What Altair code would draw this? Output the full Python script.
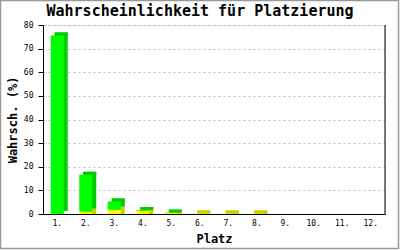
import altair as alt
import pandas as pd

places = ["1.", "2.", "3.", "4.", "5.", "6.", "7.", "8.", "9.", "10.", "11.", "12."]
yellow_vals = [0.0, 1.0, 1.8, 1.4, 0.4, 0.2, 0.2, 0.2, 0.0, 0.0, 0.0, 0.0]
green_vals = [75.6, 15.6, 3.5, 0.3, 0.2, 0.0, 0.0, 0.0, 0.0, 0.0, 0.0, 0.0]

rows = []
for p, yv, gv in zip(places, yellow_vals, green_vals):
    rows.append({
        "Platz": p,
        "yellow": yv,
        "green": gv,
        "total": yv + gv,
        "zero": 0.0,
        "topcol": "g" if gv > 0 else "y",
    })
df = pd.DataFrame(rows)

MONO = "DejaVu Sans Mono"
W, H = 342, 189

xenc = alt.X("Platz:N", sort=places,
             scale=alt.Scale(domain=places, paddingInner=0, paddingOuter=0),
             axis=alt.Axis(title="Platz", labelAngle=0, ticks=False, grid=False,
                           domainColor="black", labelFont=MONO, labelFontSize=8,
                           labelColor="black", labelPadding=5,
                           titleFont=MONO, titleFontSize=12, titleFontWeight="bold",
                           titleColor="black", titlePadding=6))
yscale = alt.Scale(domain=[0, 80], nice=False)
yaxis = alt.Axis(title="Wahrsch. (%)", values=list(range(0, 81, 10)), tickSize=5,
                 tickColor="black", domainColor="black", labelFont=MONO,
                 labelFontSize=8, labelColor="black", labelPadding=5,
                 gridColor="#bbbbbb", gridDash=[2, 3],
                 titleFont=MONO, titleFontSize=12, titleFontWeight="bold",
                 titleColor="black", titlePadding=4)

base = alt.Chart(df).encode(x=xenc)

back_yellow = base.transform_filter("datum.yellow > 0").mark_bar(
    size=13, color="#cccc00", xOffset=4, yOffset=-3, y2Offset=0
).encode(y=alt.Y("yellow:Q", scale=yscale, axis=yaxis), y2="zero:Q")

back_green = base.transform_filter("datum.green > 0").mark_bar(
    size=13, color="#00cc00", xOffset=4, yOffset=-3, y2Offset=-3
).encode(y=alt.Y("total:Q", scale=yscale, axis=yaxis), y2="yellow:Q")

top_face = base.transform_filter("datum.total > 0").mark_bar(
    size=13, xOffset=4, yOffset=-3, y2Offset=0
).encode(
    y=alt.Y("total:Q", scale=yscale, axis=yaxis), y2="total:Q",
    color=alt.Color("topcol:N", scale=alt.Scale(domain=["g", "y"], range=["#00cc00", "#cccc00"]), legend=None),
)

front_yellow = base.transform_filter("datum.yellow > 0").mark_bar(
    size=13, color="#ffff00"
).encode(y=alt.Y("yellow:Q", scale=yscale, axis=yaxis), y2="zero:Q")

front_green = base.transform_filter("datum.green > 0").mark_bar(
    size=13, color="#00ff00"
).encode(y=alt.Y("total:Q", scale=yscale, axis=yaxis), y2="yellow:Q")

right_rule = alt.Chart(alt.Data(values=[{}])).mark_rule(color="black").encode(
    x=alt.value(W), y=alt.value(0), y2=alt.value(H)
)

border = alt.Chart(alt.Data(values=[{}])).mark_rect(
    filled=False, stroke="#999999", strokeWidth=1.5
).encode(
    x=alt.value(-42.5), x2=alt.value(400 - 43 - 1.5),
    y=alt.value(-24.5), y2=alt.value(250 - 25 - 1.5)
)

chart = alt.layer(
    back_yellow, back_green, top_face, front_yellow, front_green, right_rule, border
).properties(
    width=W, height=H,
    title=alt.TitleParams("Wahrscheinlichkeit für Platzierung", font=MONO, fontSize=15,
                          fontWeight="bold", color="black", anchor="middle", dx=-14,
                          baseline="alphabetic", offset=0, dy=31),
    autosize=alt.AutoSizeParams(type="none"),
    padding={"left": 43, "top": 25, "right": 15, "bottom": 36},
).configure_view(stroke=None).configure(background="white")

chart.save("out.html", embed_options={"renderer": "svg", "actions": False})
